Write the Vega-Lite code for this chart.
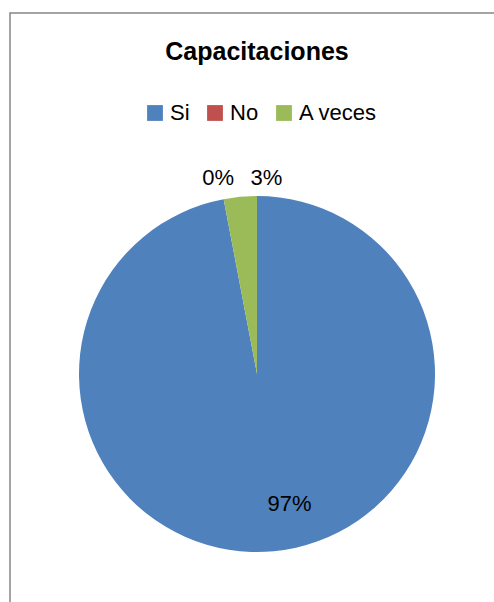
{
  "$schema": "https://vega.github.io/schema/vega-lite/v6.json",
  "width": 494,
  "height": 722,
  "padding": {"left": 10, "top": 13, "right": 0, "bottom": 0},
  "autosize": {"type": "none"},
  "background": "white",
  "view": {"stroke": "#868686", "strokeWidth": 1.5, "fill": "white"},
  "config": {"view": {"stroke": "#868686", "strokeWidth": 1.5}},
  "title": {
    "text": "Capacitaciones",
    "font": "Liberation Sans",
    "fontSize": 25,
    "fontWeight": "bold",
    "color": "black",
    "anchor": "middle",
    "frame": "group",
    "offset": -72,
    "baseline": "alphabetic"
  },
  "data": {
    "values": [
      {"cat": "Si", "value": 0.97, "orden": 1},
      {"cat": "No", "value": 0.0, "orden": 2},
      {"cat": "A veces", "value": 0.03, "orden": 3}
    ]
  },
  "encoding": {
    "theta": {"field": "value", "type": "quantitative", "stack": true},
    "order": {"field": "orden", "type": "quantitative"}
  },
  "layer": [
    {
      "mark": {"type": "arc", "radius": 178, "stroke": null},
      "encoding": {
        "color": {
          "field": "cat",
          "type": "nominal",
          "scale": {"domain": ["Si", "No", "A veces"], "range": ["#4F81BD", "#C0504D", "#9BBB59"]},
          "legend": {
            "orient": "none",
            "legendX": 134,
            "legendY": 89,
            "direction": "horizontal",
            "title": null,
            "symbolType": "square",
            "symbolSize": 250,
            "symbolStrokeWidth": 0,
            "labelFont": "Liberation Sans",
            "labelFontSize": 22,
            "labelColor": "black",
            "labelOffset": 4,
            "columnPadding": 14,
            "padding": 0
          }
        }
      }
    },
    {
      "mark": {"type": "text", "radius": 134, "dx": 20, "dy": -3, "font": "Liberation Sans", "fontSize": 22, "color": "black"},
      "encoding": {
        "text": {"condition": {"test": "datum.cat === 'Si'", "field": "value", "format": ".0%"}, "value": ""}
      }
    },
    {
      "mark": {"type": "text", "radius": 197, "dx": -2, "dy": -2, "font": "Liberation Sans", "fontSize": 22, "color": "black"},
      "encoding": {
        "text": {"condition": {"test": "datum.cat === 'No'", "field": "value", "format": ".0%"}, "value": ""}
      }
    },
    {
      "mark": {"type": "text", "radius": 197, "dx": 28, "dy": 0, "font": "Liberation Sans", "fontSize": 22, "color": "black"},
      "encoding": {
        "text": {"condition": {"test": "datum.cat === 'A veces'", "field": "value", "format": ".0%"}, "value": ""}
      }
    }
  ]
}
